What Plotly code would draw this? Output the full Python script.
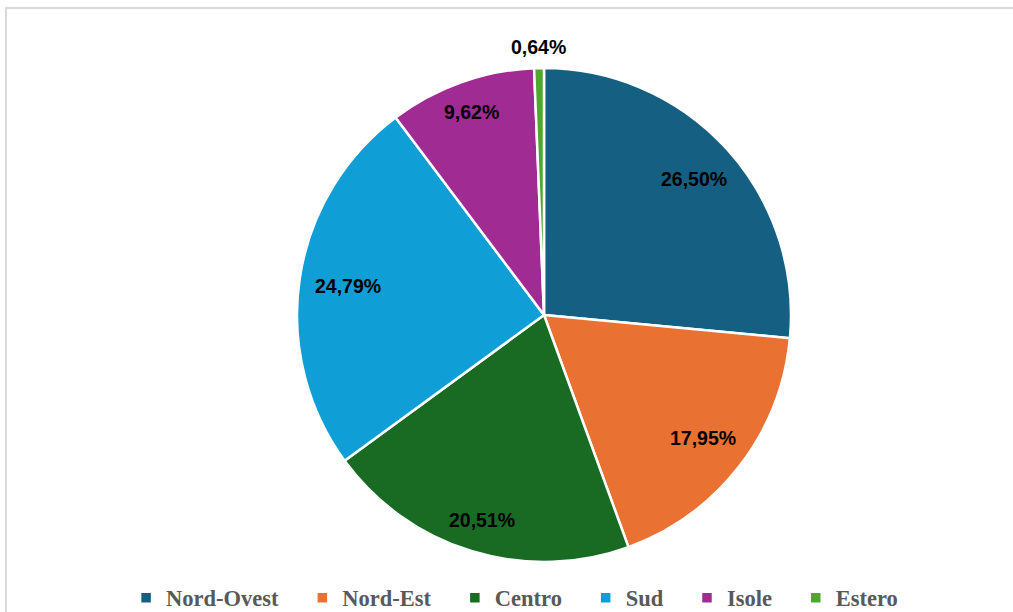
import math
import plotly.graph_objects as go

categories = ["Nord-Ovest", "Nord-Est", "Centro", "Sud", "Isole", "Estero"]
values = [26.50, 17.95, 20.51, 24.79, 9.62, 0.64]
value_labels = ["26,50%", "17,95%", "20,51%", "24,79%", "9,62%", "0,64%"]
colors = ["#156082", "#E97132", "#196B24", "#0F9ED5", "#A02B93", "#4EA72E"]

W, H = 1013, 612
CX, CY, R = 544, 315, 247
LABEL_FS = 19.5

# trailing spaces widen the gap between legend entries (as in the original)
legend_names = [c + ("\u2002\u2004" if i < len(categories) - 1 else "") for i, c in enumerate(categories)]

fig = go.Figure()
fig.add_trace(go.Pie(
    labels=legend_names,
    values=values,
    sort=False,
    direction="clockwise",
    rotation=0,
    marker=dict(colors=colors, line=dict(color="white", width=2.5)),
    textinfo="none",
    hoverinfo="label+percent",
    domain=dict(x=[(CX - R) / W, (CX + R) / W], y=[1 - (CY + R) / H, 1 - (CY - R) / H]),
))

# label positions derived from the slice angles
total = sum(values)
cum = 0.0
annotations = []
char_w = {"%": 0.889, ",": 0.278}
for v, txt in zip(values, value_labels):
    mid = (cum + v / 2) / total * 2 * math.pi
    cum += v
    ux, uy = math.sin(mid), -math.cos(mid)
    tw = sum(char_w.get(c, 0.556) for c in txt) * LABEL_FS
    w, h = tw / 2, 7
    if v / total < 0.03:
        t = 1.085 * R
    else:
        rout = 0.94 * R
        b = abs(ux) * w + abs(uy) * h
        t = -b + math.sqrt(b * b - (w * w + h * h - rout * rout))
    px, py = CX + t * ux, CY + t * uy
    annotations.append(dict(
        x=px / W, y=1 - py / H, xref="paper", yref="paper",
        text=txt, showarrow=False, xanchor="center", yanchor="middle",
        font=dict(family="Liberation Sans", size=LABEL_FS, color="black", weight="bold"),
    ))

fig.update_layout(
    width=W, height=H,
    margin=dict(l=0, r=0, t=0, b=0, autoexpand=False),
    paper_bgcolor="white",
    plot_bgcolor="white",
    annotations=annotations,
    showlegend=True,
    legend=dict(
        orientation="h", x=0.508, xanchor="center", y=1 - 598 / H, yanchor="middle",
        font=dict(family="Liberation Serif", size=22.5, color="#595959", weight="bold"),
        bgcolor="rgba(0,0,0,0)",
    ),
    shapes=[dict(
        type="rect", xref="paper", yref="paper",
        x0=6 / W, x1=1.02, y0=-0.02, y1=1 - 8 / H,
        line=dict(color="#D9D9D9", width=2), fillcolor="rgba(0,0,0,0)", layer="below",
    )],
)

fig.write_html(
    "out.html",
    config={"displayModeBar": False},
    post_script="document.body.style.margin='0';document.body.style.overflow='hidden';",
)
